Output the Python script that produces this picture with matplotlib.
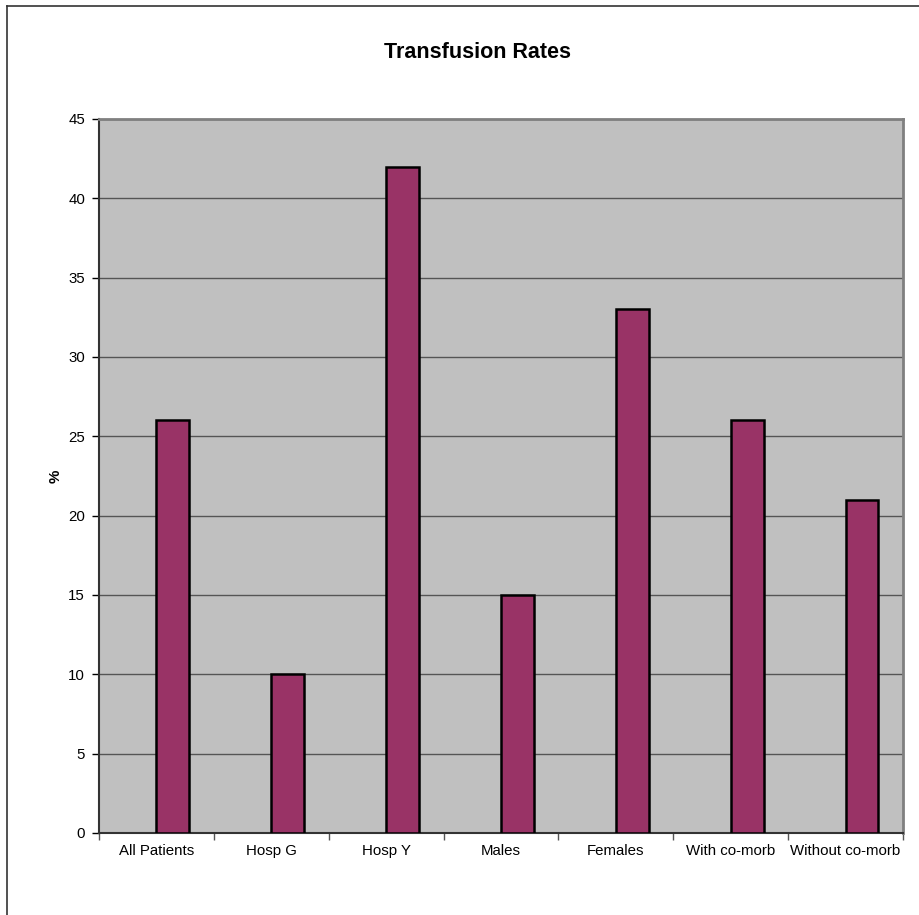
import matplotlib.pyplot as plt
from matplotlib.lines import Line2D

# Данные по переливаниям крови
groups = ['All Patients', 'Hosp G', 'Hosp Y', 'Males', 'Females', 'With co-morb', 'Without co-morb']
rates = [26, 10, 42, 15, 33, 26, 21]
y_ticks = [0, 5, 10, 15, 20, 25, 30, 35, 40, 45]

plt.rcParams['font.family'] = ['Liberation Sans', 'DejaVu Sans']

fig = plt.figure(figsize=(9.19, 9.15), dpi=100)
ax = fig.add_axes([99 / 919, 82 / 915, 804 / 919, 714 / 915])
ax.set_facecolor('#c0c0c0')

# Сетка по оси Y
ax.set_axisbelow(True)
ax.yaxis.grid(True, color='#555555', linewidth=1.0)

# Рисуем столбцы (столбец стоит справа от центра категории)
x = list(range(len(groups)))
ax.bar(x, rates, width=0.286, align='edge', color='#993366', edgecolor='black',
       linewidth=1.8, zorder=3)

ax.set_xlim(-0.5, len(groups) - 0.5)
ax.set_ylim(0, 45)
ax.set_yticks(y_ticks)
ax.set_yticklabels([str(v) for v in y_ticks], fontsize=10.8)

# Подписи категорий по центру, деления по границам
ax.set_xticks(x)
ax.set_xticklabels(groups, fontsize=10.8)
ax.tick_params(axis='x', which='major', length=0, pad=8)
ax.set_xticks([i - 0.5 for i in range(len(groups) + 1)], minor=True)
ax.tick_params(axis='x', which='minor', length=5, width=1, color='#555555', direction='out')
ax.tick_params(axis='y', length=5, width=1, color='black', direction='out', pad=5)

for side in ['top', 'right']:
    ax.spines[side].set_color('#808080')
    ax.spines[side].set_linewidth(2)
ax.spines['left'].set_color('#333333')
ax.spines['left'].set_linewidth(1.5)
ax.spines['bottom'].set_color('#333333')
ax.spines['bottom'].set_linewidth(1.5)

ax.set_ylabel('%', fontsize=10.8, fontweight='bold', labelpad=4)
fig.text(478 / 919, 1 - 53 / 915, 'Transfusion Rates', ha='center', va='center',
         fontsize=15.5, fontweight='bold')

# Рамка области диаграммы (левая и верхняя стороны)
fig.add_artist(Line2D([7 / 919, 7 / 919], [0, 1 - 6 / 915], transform=fig.transFigure,
                      color='#333333', linewidth=1.2))
fig.add_artist(Line2D([7 / 919, 1], [1 - 6 / 915, 1 - 6 / 915], transform=fig.transFigure,
                      color='#333333', linewidth=1.2))

plt.savefig('out.png', dpi=100)
